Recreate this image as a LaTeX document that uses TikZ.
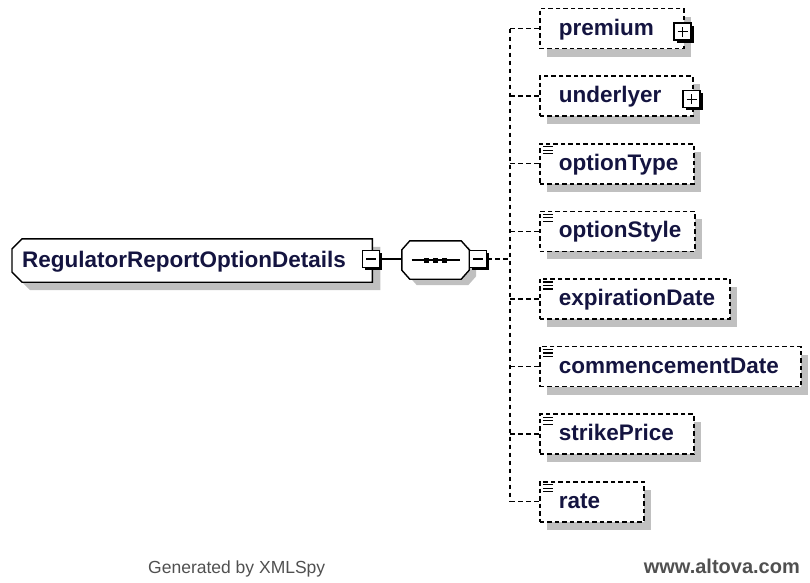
\documentclass[tikz,border=0pt]{standalone}
\usepackage{fontspec}
\setmainfont{Liberation Sans}
\usetikzlibrary{backgrounds}
\usetikzlibrary{positioning}
\definecolor{elemtext}{RGB}{20,20,64}
\definecolor{shadowgray}{RGB}{192,192,192}
\definecolor{footgray}{RGB}{80,80,80}
\tikzstyle{elemfont} = [font=\bfseries\fontsize{22.5}{27}\selectfont, text=elemtext]
\tikzstyle{root} = [inner xsep=10pt, inner ysep=0pt, text width=340pt, minimum height=43pt,
  text height=14.5pt, text depth=1.5pt, align=left, elemfont]
\tikzstyle{seq} = [inner sep=0pt, minimum width=67pt, minimum height=38pt]
\tikzstyle{elem} = [draw, line width=1.6pt, dash pattern=on 4.5pt off 3pt, fill=white,
  inner xsep=19pt, inner ysep=0pt, minimum height=40pt, text height=14.5pt, text depth=1.5pt,
  align=left, elemfont,
  preaction={fill=shadowgray, draw=none, transform canvas={shift={(7.5pt,-8pt)}}}]
\tikzstyle{simple} = [elem, path picture={
  \foreach \k in {3,6.5,10}
    \draw[solid, line width=1.2pt] ([xshift=3pt,yshift=-\k pt]path picture bounding box.north west) -- ++(10pt,0);}]
\tikzstyle{toggle} = [draw, line width=1.4pt, fill=white, minimum size=17pt, inner sep=0pt,
  preaction={fill=black, transform canvas={shift={(2.5pt,-2.5pt)}}}]
\tikzstyle{minus} = [toggle, path picture={
  \draw[line width=1.2pt] ([xshift=3.5pt]path picture bounding box.west) -- ([xshift=-3.5pt]path picture bounding box.east);}]
\tikzstyle{plus} = [toggle, path picture={
  \draw[line width=1.2pt] ([xshift=3.5pt]path picture bounding box.west) -- ([xshift=-3.5pt]path picture bounding box.east);
  \draw[line width=1.2pt] ([yshift=3.5pt]path picture bounding box.south) -- ([yshift=-3.5pt]path picture bounding box.north);}]
\tikzstyle{link} = [line width=1.4pt]
\tikzstyle{branch} = [line width=1.5pt, dash pattern=on 4.5pt off 3.5pt]
\tikzstyle{footer} = [text=footgray, inner sep=0pt, font=\fontsize{17.5}{21}\selectfont]
\tikzset{
  rootpath/.style={insert path={([xshift=10pt]root.north west) -- (root.north east) -- (root.south east)
    -- ([xshift=10pt]root.south west) -- ([yshift=10pt]root.south west) -- ([yshift=-10pt]root.north west) -- cycle}},
  seqpath/.style={insert path={([xshift=8pt]seq.north west) -- ([xshift=-8pt]seq.north east) -- ([yshift=-9pt]seq.north east)
    -- ([yshift=9pt]seq.south east) -- ([xshift=-8pt]seq.south east) -- ([xshift=8pt]seq.south west)
    -- ([yshift=9pt]seq.south west) -- ([yshift=-9pt]seq.north west) -- cycle}}
}

\begin{document}
\begin{tikzpicture}[x=1pt, y=-1pt]
\useasboundingbox (0,0) rectangle (810,582);

% root element and its sequence
\node[root, anchor=west] (root) at (12,260.5) {RegulatorReportOptionDetails};
\node[minus] (rootminus) at (371,259) {};
\node[seq] (seq) at (435.5,260) {};
\node[minus] (seqminus) at (478,259) {};
\coordinate (spine) at (510,259);
\draw[link] ([xshift=-24pt]seq.center) -- ([xshift=24pt]seq.center);
\foreach \dx in {-9,0,9}
  \fill ([xshift=\dx pt]seq.center) +(-2.5pt,-2.5pt) rectangle +(2.5pt,2.5pt);

% children
\node[elem, text width=106pt, anchor=west] (premium) at (539,28.5) {premium};
\node[elem, text width=115pt, below=26pt of premium.south west, anchor=north west] (underlyer) {underlyer};
\node[simple, text width=116pt, below=26pt of underlyer.south west, anchor=north west] (optionType) {optionType};
\node[simple, text width=117pt, below=26pt of optionType.south west, anchor=north west] (optionStyle) {optionStyle};
\node[simple, text width=152pt, below=26pt of optionStyle.south west, anchor=north west] (expirationDate) {expirationDate};
\node[simple, text width=223pt, below=26pt of expirationDate.south west, anchor=north west] (commencementDate) {commencementDate};
\node[simple, text width=116pt, below=26pt of commencementDate.south west, anchor=north west] (strikePrice) {strikePrice};
\node[simple, text width=66pt, below=26pt of strikePrice.south west, anchor=north west] (rate) {rate};
\node[plus] (premiumplus) at ([xshift=-2pt,yshift=-3pt]premium.east) {};
\node[plus] (underlyerplus) at ([xshift=-2pt,yshift=-3pt]underlyer.east) {};

\begin{scope}[on background layer]
  \fill[shadowgray, transform canvas={shift={(8pt,-8pt)}}, rootpath];
  \filldraw[fill=white, link, rootpath];
  \fill[shadowgray, transform canvas={shift={(7pt,-6pt)}}, seqpath];
  \filldraw[fill=white, link, seqpath];
\end{scope}

\draw[link] (rootminus.east) -- (seq.west |- rootminus);
\draw[branch] (seqminus.east) -- (spine);
\draw[branch] (spine |- premium.west) -- (spine |- rate.west);
\foreach \n in {premium,underlyer,optionType,optionStyle,expirationDate,commencementDate,strikePrice,rate}
  \draw[branch] (spine |- \n.west) -- (\n.west);

\node[footer, anchor=base west] (gen) at (148,573) {Generated by XMLSpy};
\node[footer, font=\bfseries\fontsize{20}{24}\selectfont, anchor=base east] (site) at (800,573) {www.altova.com};
\end{tikzpicture}
\end{document}
